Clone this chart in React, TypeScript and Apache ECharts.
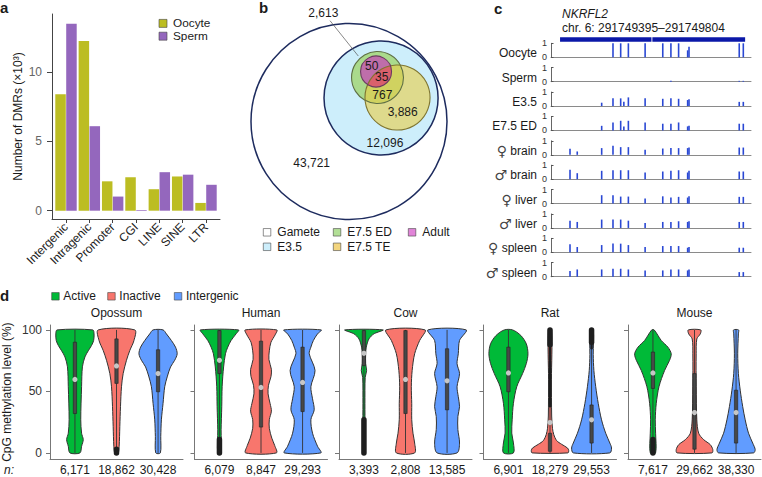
import React, { useEffect, useRef } from "react";
import * as echarts from "echarts";

const FONT = '"Liberation Sans", Arial, Helvetica, sans-serif';

// ---------------- panel a ----------------
const dmrCategories = ["Intergenic", "Intragenic", "Promoter", "CGI", "LINE", "SINE", "LTR"];
const oocyteDMRs = [8.4, 12.25, 2.12, 2.41, 1.55, 2.47, 0.56];
const spermDMRs = [13.5, 6.1, 1.02, 0.05, 2.78, 2.6, 1.87];
const dmrTicks = [0, 5, 10];
const dmrSeriesNames = ["Oocyte", "Sperm"];
const dmrColors = ["#bcbd22", "#9467bd"];

// ---------------- panel b ----------------
const vennSetNames = ["Gamete", "E3.5", "E7.5 ED", "E7.5 TE", "Adult"];
// [cx, cy, r] in units of the gamete circle radius
const vennCircles = [
  [0, 0, 1],
  [0.327, 0.24, 0.582],
  [0.291, 0.449, 0.265],
  [0.495, 0.245, 0.332],
  [0.276, 0.51, 0.158],
];
const vennCounts = ["43,721", "12,096", "767", "3,886", "50", "35", "2,613"];
const vennCountPositions = [
  [-0.381, -0.427],
  [0.367, -0.219],
  [0.34, 0.27],
  [0.548, 0.1],
  [0.232, 0.569],
  [0.334, 0.451],
  [-0.262, 1.104],
];
const vennLeader = [-0.194, 1.029, 0.095, 0.668];

// ---------------- panel c ----------------
const geneName = "NKRFL2";
const locusLabel = "chr. 6: 291749395–291749804";
const viewStart = 291749375;
const viewEnd = 291749817;
const geneSegments = [
  [291749395, 291749597],
  [291749599, 291749804],
];
const cpgSites = [
  291749417, 291749433, 291749487, 291749512, 291749529, 291749536, 291749546, 291749583,
  291749622, 291749640, 291749657, 291749677, 291749680, 291749791, 291749800,
];
const trackSymbols = ["", "", "", "", "♀", "♂", "♀", "♂", "♀", "♂"];
const trackNames = ["Oocyte", "Sperm", "E3.5", "E7.5 ED", "brain", "brain", "liver", "liver", "spleen", "spleen"];
const oocyteMeth = [0, 0, 0, 1, 1, 0, 1, 1, 1, 1, 1, 0.5, 0.75, 1, 1];
const spermMeth = [0, 0, 0, 0, 0, 0, 0, 0, 0, 0.06, 0, 0, 0, 0.06, 0.06];
const e35Meth = [0, 0, 0.24, 0.55, 0.55, 0.3, 0.62, 0.55, 0.52, 0.55, 0.52, 0.43, 0.48, 0.3, 0.3];
const e75edMeth = [0, 0, 0.33, 0.57, 0.69, 0.29, 0.69, 0.57, 0.48, 0.48, 0.57, 0.29, 0.33, 0.48, 0.48];
const fBrainMeth = [0.43, 0.24, 0.48, 0.64, 0.55, 0, 0.55, 0.36, 0.45, 0.48, 0.48, 0.48, 0.52, 0.52, 0.52];
const mBrainMeth = [0.67, 0.43, 0.6, 0.64, 0.64, 0, 0.64, 0.48, 0.55, 0.6, 0.64, 0.48, 0.6, 0.55, 0.55];
const fLiverMeth = [0, 0, 0.6, 0.6, 0.5, 0, 0.5, 0.36, 0.52, 0.43, 0.48, 0.43, 0.52, 0.48, 0.48];
const mLiverMeth = [0.52, 0.43, 0.6, 0.6, 0.6, 0, 0.52, 0.36, 0.43, 0.43, 0.48, 0.43, 0.48, 0.43, 0.43];
const fSpleenMeth = [0.57, 0.38, 0.52, 0.64, 0.62, 0, 0.52, 0.38, 0.45, 0.45, 0.45, 0.33, 0.38, 0.33, 0.33];
const mSpleenMeth = [0.4, 0.52, 0.52, 0.57, 0.57, 0, 0.52, 0.45, 0.45, 0.52, 0.52, 0.45, 0.52, 0.33, 0.33];
const trackValues = [oocyteMeth, spermMeth, e35Meth, e75edMeth, fBrainMeth, mBrainMeth, fLiverMeth, mLiverMeth, fSpleenMeth, mSpleenMeth];

// ---------------- panel d ----------------
const species = ["Opossum", "Human", "Cow", "Rat", "Mouse"];
const regionTypes = ["Active", "Inactive", "Intergenic"];
const regionColors = ["#00BA38", "#F8766D", "#619CFF"];
const nCounts = [
  ["6,171", "18,862", "30,428"],
  ["6,079", "8,847", "29,293"],
  ["3,393", "2,808", "13,585"],
  ["6,901", "18,279", "29,553"],
  ["7,617", "29,662", "38,330"],
];
const methylTicks = [0, 50, 100];
// violin outlines: [methylation %, half width in category units]
const opossumViolins = [
  [[0, 0.12], [5.4, 0.16], [10.8, 0.2], [16, 0.16], [27, 0.14], [54, 0.16], [70, 0.18], [78, 0.24], [83, 0.32], [87.4, 0.4], [91.4, 0.45], [96.8, 0.46], [100, 0.43]],
  [[0, 0.04], [5.4, 0.064], [21.5, 0.08], [37.6, 0.096], [53.8, 0.12], [64.5, 0.16], [75.3, 0.24], [83.3, 0.32], [91.4, 0.42], [100, 0.44]],
  [[0, 0.055], [13.4, 0.065], [26.9, 0.08], [40.3, 0.12], [53.8, 0.16], [61.8, 0.22], [69.9, 0.3], [75.3, 0.4], [80.6, 0.46], [86, 0.42], [91.4, 0.32], [96.8, 0.2], [100, 0.12]],
];
const humanViolins = [
  [[0, 0.04], [18.8, 0.04], [37.6, 0.056], [53.8, 0.065], [69.9, 0.1], [80.6, 0.145], [86, 0.2], [91.4, 0.28], [96.8, 0.4], [100, 0.46]],
  [[0, 0.37], [6, 0.33], [12, 0.26], [20, 0.2], [27, 0.2], [34, 0.25], [40, 0.22], [48, 0.17], [55, 0.18], [62, 0.24], [68, 0.25], [76, 0.19], [83, 0.2], [90, 0.24], [96, 0.34], [100, 0.38]],
  [[0, 0.44], [5.4, 0.36], [16, 0.24], [27, 0.2], [35, 0.28], [44, 0.24], [53.8, 0.2], [67, 0.3], [80.6, 0.16], [86, 0.2], [91.4, 0.26], [96.8, 0.36], [100, 0.45]],
];
const cowViolins = [
  [[0, 0.024], [40, 0.024], [61.3, 0.03], [67, 0.064], [72.6, 0.04], [80.6, 0.04], [86, 0.056], [92.7, 0.12], [96.8, 0.24], [100, 0.46]],
  [[0, 0.22], [8, 0.22], [16, 0.18], [27, 0.15], [40, 0.15], [53.8, 0.14], [67, 0.16], [80.6, 0.22], [91.4, 0.34], [100, 0.47]],
  [[0, 0.24], [8, 0.3], [19, 0.26], [29.6, 0.26], [37.6, 0.3], [45.7, 0.27], [53.8, 0.24], [64.5, 0.3], [72.6, 0.24], [80.6, 0.27], [91.4, 0.3], [100, 0.46]],
];
const ratViolins = [
  [[0, 0.12], [8.1, 0.12], [16.1, 0.08], [26.9, 0.09], [40.3, 0.12], [53.8, 0.2], [64.5, 0.34], [72.6, 0.43], [80.6, 0.47], [88.7, 0.43], [95.4, 0.3], [100, 0.1]],
  [[0, 0.43], [2, 0.45], [4, 0.42], [7, 0.28], [10, 0.16], [15, 0.09], [20, 0.06], [30, 0.04], [60, 0.035], [100, 0.04]],
  [[0, 0.44], [4, 0.48], [8, 0.44], [16, 0.34], [26.9, 0.24], [40.3, 0.16], [53.8, 0.1], [67, 0.056], [80, 0.04], [100, 0.04]],
];
const mouseViolins = [
  [[0, 0.064], [16, 0.064], [26.9, 0.056], [40.3, 0.08], [53.8, 0.145], [67, 0.28], [75.3, 0.4], [80.6, 0.44], [86, 0.36], [91.4, 0.2], [100, 0.03]],
  [[0, 0.42], [2.7, 0.44], [6.7, 0.38], [10.8, 0.22], [16, 0.1], [26.9, 0.056], [53.8, 0.04], [80.6, 0.04], [92.7, 0.056], [96.8, 0.14], [100, 0.15]],
  [[0, 0.42], [2.7, 0.46], [8, 0.4], [16, 0.3], [26.9, 0.22], [37.6, 0.16], [51, 0.1], [64.5, 0.056], [80.6, 0.04], [96.8, 0.056], [100, 0.06]],
];
const violins = [opossumViolins, humanViolins, cowViolins, ratViolins, mouseViolins];
// [q1, q3, mean, whisker low, whisker high]
const boxStats = [
  [[32, 90, 59.7, 0, 100], [56.5, 92.7, 70.7, 2.4, 100], [49.7, 83.9, 64.5, 0, 100]],
  [[64.5, 99.5, 75.3, 12, 100], [21, 90.9, 53.2, 0, 100], [33.6, 86, 57.3, 0, 100]],
  [[71, 99.5, 81, 28, 100], [32, 99.5, 59.7, 0, 100], [35, 84.7, 58.6, 0, 100]],
  [[49.7, 86, 65, 0, 100], [1.3, 16, 24.7, 0, 38], [8, 39, 26.9, 0, 85]],
  [[52.4, 82, 65, 7, 100], [3, 64.5, 32.8, 0, 100], [8, 51, 32.8, 0, 100]],
];
// outlier runs: [species, region, low %, high %, density (2 dense, 1 sparse)]
const outlierRuns = [
  [0, 1, 0, 3, 2],
  [1, 0, 0, 11, 2],
  [2, 0, 0, 27, 2],
  [3, 1, 38, 88, 1],
  [3, 1, 88, 100, 2],
  [3, 2, 85, 90, 1],
  [3, 2, 90, 100, 2],
  [4, 0, 0, 11, 2],
];

function txt(x: number, y: number, text: string, o: any = {}) {
  const style: any = {
    text,
    fill: o.fill || "#1a1a1a",
    fontSize: o.size || 12,
    fontFamily: FONT,
    fontWeight: o.weight || "normal",
    fontStyle: o.style || "normal",
    textAlign: o.align || "left",
    textVerticalAlign: "middle",
  };
  if (o.lineHeight) style.lineHeight = o.lineHeight;
  if (o.rich) style.rich = o.rich;
  return { type: "text", x, y, silent: true, style };
}
function sq(x: number, y: number, fill: string, size = 8) {
  return {
    type: "rect",
    shape: { x, y: y - size / 2, width: size, height: size },
    style: { fill, stroke: "#444", lineWidth: 0.6 },
    silent: true,
  };
}

function lensPoints(a: number[], b: number[], n = 240) {
  const pts: number[][] = [];
  const inside = (p: number[], c: number[]) => (p[0] - c[0]) ** 2 + (p[1] - c[1]) ** 2 <= c[2] * c[2];
  const pairs = [
    [a, b],
    [b, a],
  ];
  for (const [c, o] of pairs) {
    for (let t = 0; t < n; t++) {
      const ang = (t / n) * 2 * Math.PI;
      const p = [c[0] + c[2] * Math.cos(ang), c[1] + c[2] * Math.sin(ang)];
      if (inside(p, o)) pts.push(p);
    }
  }
  const cx = pts.reduce((s, p) => s + p[0], 0) / pts.length;
  const cy = pts.reduce((s, p) => s + p[1], 0) / pts.length;
  pts.sort((p, q) => Math.atan2(p[1] - cy, p[0] - cx) - Math.atan2(q[1] - cy, q[0] - cx));
  return pts;
}

function buildOption() {
  const grid: any[] = [];
  const xAxis: any[] = [];
  const yAxis: any[] = [];
  const series: any[] = [];
  const graphic: any[] = [];
  const hidden = { show: false };

  // ---------- a ----------
  grid.push({ left: 52, top: 14, width: 168, height: 205 });
  const catVals = dmrCategories.map((_, i) => i + 1);
  xAxis.push({
    gridIndex: 0, type: "value", min: 0.4, max: 7.6,
    axisLine: { show: true, onZero: false, lineStyle: { color: "#444", width: 1 } },
    axisTick: { show: true, customValues: catVals, length: 4, lineStyle: { color: "#444" } },
    axisLabel: { customValues: catVals, formatter: (v: number) => dmrCategories[Math.round(v) - 1], rotate: 45, margin: 6, fontSize: 12, color: "#222", fontFamily: FONT },
    splitLine: hidden,
  });
  yAxis.push({
    gridIndex: 0, type: "value", min: -0.6, max: 14.2,
    axisLine: { show: true, onZero: false, lineStyle: { color: "#444", width: 1 } },
    axisTick: { show: true, customValues: dmrTicks, length: 5, lineStyle: { color: "#444" } },
    axisLabel: { customValues: dmrTicks, margin: 10, fontSize: 12, color: "#666", fontFamily: FONT },
    splitLine: hidden,
    name: "Number of DMRs (×10³)", nameLocation: "middle", nameGap: 28,
    nameTextStyle: { fontSize: 12, color: "#1a1a1a", fontFamily: FONT },
  });
  [oocyteDMRs, spermDMRs].forEach((arr, s) => {
    series.push({
      type: "bar", name: dmrSeriesNames[s], xAxisIndex: 0, yAxisIndex: 0,
      data: arr.map((v, i) => [i + 1, v]), barWidth: 10.5, barGap: "4%",
      itemStyle: { color: dmrColors[s] },
    });
  });
  dmrSeriesNames.forEach((nm, s) => {
    const ly = 23.4 + s * 12.8;
    graphic.push(sq(159, ly, dmrColors[s]));
    graphic.push(txt(173, ly, nm, { lineHeight: 11, size: 11.8 }));
  });

  // ---------- b ----------
  grid.push({ left: 251, top: 23.5, width: 196, height: 196 });
  xAxis.push({ gridIndex: 1, type: "value", min: -1, max: 1, show: false });
  yAxis.push({ gridIndex: 1, type: "value", min: -1, max: 1, show: false });
  const vennFills = ["#ffffff", "#cdeefb", "rgba(147,205,66,0.6)", "rgba(233,205,66,0.6)", "rgba(203,38,190,0.6)"];
  const vennStrokes = ["#1d2b5e", "#1d2b5e", "#5f7045", "#7f7530", "#6b3b60"];
  const vennWidths = [1.5, 1.5, 1.1, 1.1, 1.1];
  const circleItem = (api: any, fill: string, stroke: string, lw: number) => {
    const c = api.coord([api.value(0), api.value(1)]);
    const r = api.size([api.value(2), 0])[0];
    return { type: "circle", shape: { cx: c[0], cy: c[1], r }, style: { fill, stroke, lineWidth: lw } };
  };
  series.push({
    type: "custom", xAxisIndex: 1, yAxisIndex: 1, data: vennCircles, clip: false,
    renderItem: (p: any, api: any) => circleItem(api, vennFills[p.dataIndex], "none", 0),
  });
  series.push({
    type: "custom", xAxisIndex: 1, yAxisIndex: 1, data: [[0, 0]], clip: false,
    renderItem: (p: any, api: any) => ({
      type: "polygon",
      shape: { points: lensPoints(vennCircles[4], vennCircles[3]).map((q) => api.coord(q)) },
      style: { fill: "#d9606c" },
    }),
  });
  series.push({
    type: "custom", xAxisIndex: 1, yAxisIndex: 1, data: vennCircles, clip: false,
    renderItem: (p: any, api: any) => circleItem(api, "none", vennStrokes[p.dataIndex], vennWidths[p.dataIndex]),
  });
  series.push({
    type: "custom", xAxisIndex: 1, yAxisIndex: 1, data: [vennLeader], clip: false,
    renderItem: (p: any, api: any) => {
      const a = api.coord([api.value(0), api.value(1)]);
      const b = api.coord([api.value(2), api.value(3)]);
      return { type: "line", shape: { x1: a[0], y1: a[1], x2: b[0], y2: b[1] }, style: { stroke: "#555", lineWidth: 0.7 } };
    },
  });
  series.push({
    type: "custom", xAxisIndex: 1, yAxisIndex: 1, data: vennCountPositions, clip: false,
    renderItem: (p: any, api: any) => {
      const c = api.coord([api.value(0), api.value(1)]);
      return {
        type: "text", x: c[0], y: c[1],
        style: { text: vennCounts[p.dataIndex], fill: "#1a1a1a", fontSize: 12, fontFamily: FONT, textAlign: "center", textVerticalAlign: "middle" },
      };
    },
  });
  const legendSwatch = ["#ffffff", "#cdeefb", "#b2df96", "#f3d57e", "#e184d8"];
  const legendSlots = [
    [263.3, 232.3],
    [263.3, 246.8],
    [333.3, 232.3],
    [333.3, 246.8],
    [408.3, 232.3],
  ];
  vennSetNames.forEach((nm, i) => {
    const [lx, ly] = legendSlots[i];
    graphic.push(sq(lx, ly, legendSwatch[i], 7.5));
    graphic.push(txt(lx + 14, ly, nm, { lineHeight: 12 }));
  });

  // ---------- c ----------
  grid.push({ left: 551, top: 37.3, width: 200, height: 4.4 });
  xAxis.push({ gridIndex: 2, type: "value", min: viewStart, max: viewEnd, show: false });
  yAxis.push({ gridIndex: 2, type: "value", min: 0, max: 1, show: false });
  series.push({
    type: "custom", xAxisIndex: 2, yAxisIndex: 2, data: geneSegments, clip: false,
    renderItem: (p: any, api: any) => {
      const a = api.coord([api.value(0), 1]);
      const b = api.coord([api.value(1), 0]);
      return { type: "rect", shape: { x: a[0], y: a[1], width: b[0] - a[0], height: b[1] - a[1] }, style: { fill: "#0b18a8" } };
    },
  });
  graphic.push(txt(562, 14, geneName, { style: "italic" }));
  graphic.push(txt(562, 27.6, locusLabel));
  trackNames.forEach((nm, t) => {
    const gi = 3 + t;
    const base = 57.3 + t * 24.38;
    grid.push({ left: 551, top: base - 14, width: 200, height: 14 });
    xAxis.push({
      gridIndex: gi, type: "value", min: viewStart, max: viewEnd,
      axisLine: { show: true, onZero: false, lineStyle: { color: "#8a8a8a", width: 1 } },
      axisTick: hidden, axisLabel: hidden, splitLine: hidden,
    });
    yAxis.push({
      gridIndex: gi, type: "value", min: 0, max: 1,
      axisLine: { show: true, onZero: false, lineStyle: { color: "#555", width: 0.9 } },
      axisTick: { show: true, inside: true, length: 2.5, customValues: [0, 1], lineStyle: { color: "#555" } },
      axisLabel: { customValues: [0, 1], fontSize: 9, margin: 4, color: "#333", fontFamily: FONT },
      splitLine: hidden,
    });
    series.push({
      type: "custom", xAxisIndex: gi, yAxisIndex: gi, clip: false,
      data: cpgSites.map((pos, j) => [pos, trackValues[t][j]]),
      renderItem: (p: any, api: any) => {
        const v = api.value(1);
        if (!v) return null;
        const a = api.coord([api.value(0), v]);
        const b = api.coord([api.value(0), 0]);
        return { type: "rect", shape: { x: a[0] - 0.8, y: a[1], width: 1.6, height: b[1] - a[1] }, style: { fill: "#2a48d4" } };
      },
    });
    const sym = trackSymbols[t];
    if (sym) {
      graphic.push(
        txt(537, base - 4, `{s|${sym}} ${nm}`, {
          align: "right",
          rich: { s: { fontSize: 14, fontFamily: '"DejaVu Sans", sans-serif', fill: "#444" } },
        })
      );
    } else {
      graphic.push(txt(537, base - 4, nm, { align: "right" }));
    }
  });

  // ---------- d ----------
  species.forEach((sp, i) => {
    const gi = 13 + i;
    const left = 50 + i * 144.5;
    grid.push({ left, top: 325, width: 133, height: 134.3 });
    xAxis.push({
      gridIndex: gi, type: "value", min: 0.4, max: 3.6,
      axisLine: { show: true, onZero: false, lineStyle: { color: "#777", width: 1 } },
      axisTick: hidden,
      axisLabel: { customValues: [1, 2, 3], formatter: (v: number) => nCounts[i][Math.round(v) - 1], margin: 5, fontSize: 12, color: "#1a1a1a", fontFamily: FONT },
      splitLine: hidden,
    });
    yAxis.push({
      gridIndex: gi, type: "value", min: -5.2, max: 104,
      axisLine: { show: true, onZero: false, lineStyle: { color: "#777", width: 1 } },
      axisTick: { show: true, customValues: methylTicks, length: 4, lineStyle: { color: "#777" } },
      axisLabel: { show: i === 0, customValues: methylTicks, margin: 8, fontSize: 12, color: "#333", fontFamily: FONT },
      splitLine: hidden,
      name: i === 0 ? "CpG methylation level (%)" : "",
      nameLocation: "middle", nameGap: 37,
      nameTextStyle: { fontSize: 12, color: "#1a1a1a", fontFamily: FONT },
    });
    series.push({
      type: "custom", xAxisIndex: gi, yAxisIndex: gi, clip: false,
      data: regionTypes.map((_, k) => [k + 1, boxStats[i][k][2]]),
      renderItem: (p: any, api: any) => {
        const k = p.dataIndex;
        const cat = api.value(0);
        const prof = violins[i][k];
        const right = prof.map(([v, w]) => api.coord([cat + w, v]));
        const leftSide = prof.slice().reverse().map(([v, w]) => api.coord([cat - w, v]));
        const [q1, q3, mean, wlo, whi] = boxStats[i][k];
        const top = api.coord([cat, whi]);
        const bot = api.coord([cat, wlo]);
        const b1 = api.coord([cat - 0.04, q3]);
        const b2 = api.coord([cat + 0.04, q1]);
        const m = api.coord([cat, mean]);
        const children: any[] = [
          { type: "polygon", shape: { points: [...right, ...leftSide], smooth: 0.3 }, style: { fill: regionColors[k], stroke: "#333", lineWidth: 1 } },
          { type: "line", shape: { x1: top[0], y1: top[1], x2: bot[0], y2: bot[1] }, style: { stroke: "#333", lineWidth: 0.9 } },
          { type: "rect", shape: { x: b1[0], y: b1[1], width: b2[0] - b1[0], height: b2[1] - b1[1] }, style: { fill: "#484848", stroke: "#222", lineWidth: 0.6 } },
        ];
        outlierRuns
          .filter((o) => o[0] === i && o[1] === k)
          .forEach((o) => {
            const th = o[4] === 2 ? 5.5 : 2.5;
            const hi = api.coord([cat, o[3]]);
            const lo = api.coord([cat, o[2]]);
            children.push({
              type: "rect",
              shape: { x: hi[0] - th / 2, y: hi[1] - th / 2, width: th, height: lo[1] - hi[1] + th, r: th / 2 },
              style: { fill: "#1e1e1e" },
            });
          });
        children.push({ type: "circle", shape: { cx: m[0], cy: m[1], r: 2.6 }, style: { fill: "#c6c6c6" } });
        return { type: "group", children };
      },
    });
    graphic.push(txt(left + 66.5, 313, sp, { align: "center" }));
  });
  regionTypes.forEach((nm, k) => {
    const xs = [51.7, 107.7, 174.3][k];
    graphic.push(sq(xs, 296.3, regionColors[k], 7.5));
    graphic.push(txt(xs + 11.6, 296.3, nm));
  });
  graphic.push(txt(4, 470, "n:", { style: "italic" }));

  // panel letters
  graphic.push(txt(0, 7.5, "a", { weight: "bold", size: 15 }));
  graphic.push(txt(259, 7.5, "b", { weight: "bold", size: 15 }));
  graphic.push(txt(494, 8.5, "c", { weight: "bold", size: 15 }));
  graphic.push(txt(0, 295, "d", { weight: "bold", size: 15 }));

  return {
    animation: false,
    backgroundColor: "#ffffff",
    textStyle: { fontFamily: FONT },
    grid,
    xAxis,
    yAxis,
    series,
    graphic: { elements: graphic },
  };
}

export default function App() {
  const ref = useRef<HTMLDivElement>(null);
  useEffect(() => {
    const chart = echarts.init(ref.current as HTMLDivElement, null, { renderer: "svg" });
    chart.setOption(buildOption() as any);
    return () => chart.dispose();
  }, []);
  return <div ref={ref} style={{ position: "absolute", left: 0, top: 0, width: 762, height: 477, background: "#fff" }} />;
}
